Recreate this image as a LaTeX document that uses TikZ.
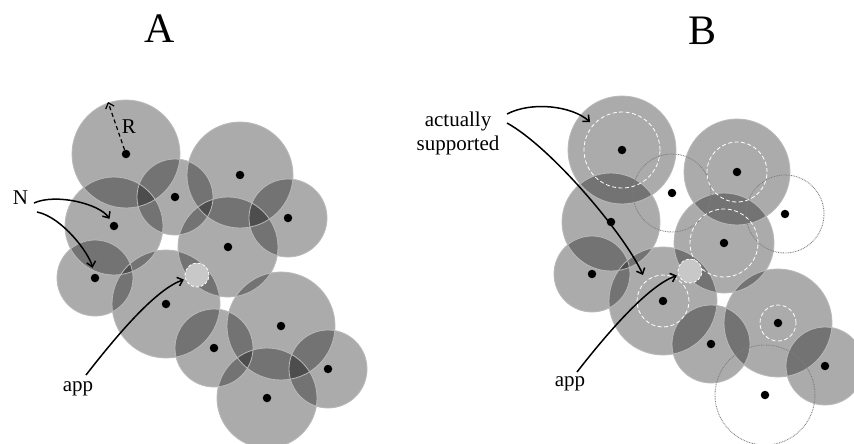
\documentclass[tikz,border=0pt]{standalone}
\usepackage{fontspec}
\setmainfont{Liberation Serif}
\usetikzlibrary{arrows.meta}
\begin{document}
\begin{tikzpicture}[x=1pt,y=-1pt,
  disk/.style={fill=black,fill opacity=0.33},
  rim/.style={draw={rgb,255:red,185;green,185;blue,185},line width=0.8pt},
  ghost/.style={draw={rgb,255:red,125;green,125;blue,125},line width=0.9pt,dash pattern=on 0.8pt off 0.9pt},
  supp/.style={draw=white,line width=0.8pt,dash pattern=on 4pt off 2.5pt},
  pt/.style={circle,fill=black,inner sep=0pt,minimum size=8.5pt},
  appc/.style={circle,inner sep=0pt,minimum size=24pt,fill={rgb,255:red,200;green,200;blue,200},draw=white,line width=0.8pt,dash pattern=on 3pt off 2pt},
  lab/.style={font=\fontsize{21}{24}\selectfont,inner sep=0pt,align=center},
  ttl/.style={font=\fontsize{42}{48}\selectfont,inner sep=0pt},
  arr/.style={line width=1.5pt,-{Straight Barb[length=5pt,width=9pt]}},
]
\useasboundingbox (0,0) rectangle (854,444);
% centres
\foreach \n/\x/\y in {a1/126/154,a2/175/197,a3/240/175,a4/288/218,a5/228/247,a6/114/226,
  a7/95/278,a8/166/304,a9/214/348,a10/281/326,a11/328/369,a12/267/398,
  b1/622/150,b2/672/193,b3/737/172,b4/785/214,b5/724/243,b6/611/222,
  b7/592/274,b8/663/301,b9/711/344,b10/778/323,b11/825/366,b12/765/395}
  \coordinate (c\n) at (\x,\y);
% filled disks
\foreach \n/\r in {a1/54,a2/38,a3/53,a4/39,a5/50,a6/49,a7/38,a8/54,a9/39,a10/54,a11/39,a12/50,
  b1/54,b3/53,b5/50,b6/49,b7/38,b8/54,b9/39,b10/54,b11/39}
  \fill[disk] (c\n) circle[radius=\r pt];
\foreach \n/\r in {a1/54,a2/38,a3/53,a4/39,a5/50,a6/49,a7/38,a8/54,a9/39,a10/54,a11/39,a12/50,
  b1/54,b3/53,b5/50,b6/49,b7/38,b8/54,b9/39,b10/54,b11/39}
  \draw[rim] (c\n) circle[radius=\r pt];
% unsupported (dotted) ranges
\foreach \n/\r in {b2/39,b4/39,b12/50}
  \draw[ghost] (c\n) circle[radius=\r pt];
% actually supported ranges
\foreach \n/\r in {b1/38,b3/30,b5/34,b8/26,b10/18}
  \draw[supp] (c\n) circle[radius=\r pt];
% app circles
\node[appc] (appA) at (197,275) {};
\node[appc] (appB) at (690,271) {};
% dots
\foreach \n in {a1,a2,a3,a4,a5,a6,a7,a8,a9,a10,a11,a12,b1,b2,b3,b4,b5,b6,b7,b8,b9,b10,b11,b12}
  \node[pt] (\n) at (c\n) {};
% labels
\node[ttl] (tA) at (160,29) {A};
\node[ttl] (tB) at (702,31) {B};
\node[lab] (R) at (129,127) {R};
\node[lab] (N) at (20.5,197.5) {N};
\node[lab] (appLA) at (78,388.5) {app};
\node[lab] (appLB) at (570,384) {app};
\node[lab] (act) at (458,133.5) {actually\\supported};
% connector end points
\coordinate (Rtip) at (108,102);
\coordinate (N1) at (34,203);
\coordinate (N2) at (37,212);
\coordinate (sA) at (86,375);
\coordinate (sB) at (577,372);
\coordinate (s1) at (507,114);
\coordinate (s2) at (507,123);
\coordinate (e1) at (590,122);
\coordinate (e2) at (643,275);
% connectors
\draw[line width=1.2pt,dash pattern=on 4pt off 3pt,-{Straight Barb[length=5pt,width=9pt]}] (a1) -- (Rtip);
\draw[arr,shorten >=4pt] (N1) .. controls +(22,-10) and +(-14,-22) .. (a6);
\draw[arr,shorten >=6pt] (N2) .. controls +(25,5) and +(-6,-25) .. (a7);
\draw[arr,shorten >=1.5pt] (sA) .. controls +(35,-45) and +(-40,14) .. (appA);
\draw[arr,shorten >=1.5pt] (sB) .. controls +(35,-45) and +(-40,14) .. (appB);
\draw[arr] (s1) .. controls +(25,-13) and +(-18,-16) .. (e1);
\draw[arr] (s2) .. controls +(45,25) and +(-18,-40) .. (e2);
\end{tikzpicture}
\end{document}
